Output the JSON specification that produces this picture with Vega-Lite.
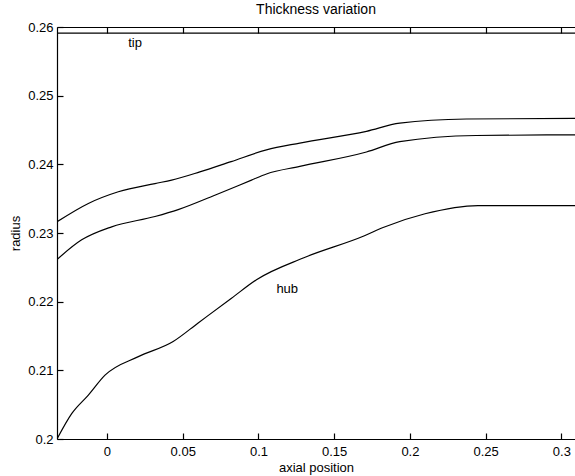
{
  "$schema": "https://vega.github.io/schema/vega-lite/v6.json",
  "width": 518,
  "height": 412,
  "autosize": {"type": "none"},
  "padding": {"left": 57, "top": 27, "right": 0, "bottom": 37},
  "background": "white",
  "config": {
    "view": {"stroke": null},
    "font": "Liberation Sans",
    "axis": {
      "grid": false,
      "domainColor": "black",
      "domainWidth": 1.2,
      "tickColor": "black",
      "tickWidth": 1.2,
      "tickSize": -6,
      "labelColor": "black",
      "labelFont": "Liberation Sans",
      "labelFontSize": 13,
      "titleFont": "Liberation Sans",
      "titleFontSize": 13,
      "titleFontWeight": "normal",
      "titleColor": "black"
    },
    "title": {"font": "Liberation Sans", "fontSize": 14, "fontWeight": "normal", "color": "black"}
  },
  "title": {"text": "Thickness variation", "anchor": "middle", "offset": 4},
  "datasets": {
    "curves": [
      {"x": -0.033, "y": 0.2591, "series": "tip"},
      {"x": 0.309, "y": 0.2591, "series": "tip"},

      {"x": -0.0332, "y": 0.2316, "series": "upper"},
      {"x": -0.0123, "y": 0.2343, "series": "upper"},
      {"x": 0.0075, "y": 0.2360, "series": "upper"},
      {"x": 0.0317, "y": 0.2372, "series": "upper"},
      {"x": 0.0427, "y": 0.2377, "series": "upper"},
      {"x": 0.0613, "y": 0.2389, "series": "upper"},
      {"x": 0.0820, "y": 0.2404, "series": "upper"},
      {"x": 0.1053, "y": 0.2421, "series": "upper"},
      {"x": 0.1273, "y": 0.2431, "series": "upper"},
      {"x": 0.1713, "y": 0.2448, "series": "upper"},
      {"x": 0.1933, "y": 0.2460, "series": "upper"},
      {"x": 0.2373, "y": 0.2466, "series": "upper"},
      {"x": 0.309, "y": 0.2467, "series": "upper"},

      {"x": -0.0332, "y": 0.2261, "series": "middle"},
      {"x": -0.0167, "y": 0.2290, "series": "middle"},
      {"x": 0.0031, "y": 0.2309, "series": "middle"},
      {"x": 0.0317, "y": 0.2324, "series": "middle"},
      {"x": 0.0470, "y": 0.2334, "series": "middle"},
      {"x": 0.0712, "y": 0.2355, "series": "middle"},
      {"x": 0.0954, "y": 0.2377, "series": "middle"},
      {"x": 0.1053, "y": 0.2386, "series": "middle"},
      {"x": 0.1273, "y": 0.2397, "series": "middle"},
      {"x": 0.1713, "y": 0.2418, "series": "middle"},
      {"x": 0.1933, "y": 0.2433, "series": "middle"},
      {"x": 0.2438, "y": 0.2442, "series": "middle"},
      {"x": 0.309, "y": 0.2443, "series": "middle"},

      {"x": -0.033, "y": 0.2000, "series": "hub"},
      {"x": -0.0233, "y": 0.2037, "series": "hub"},
      {"x": -0.0123, "y": 0.2064, "series": "hub"},
      {"x": -0.0013, "y": 0.2093, "series": "hub"},
      {"x": 0.0207, "y": 0.2120, "series": "hub"},
      {"x": 0.0437, "y": 0.2142, "series": "hub"},
      {"x": 0.0602, "y": 0.2169, "series": "hub"},
      {"x": 0.0822, "y": 0.2205, "series": "hub"},
      {"x": 0.0987, "y": 0.2232, "series": "hub"},
      {"x": 0.1300, "y": 0.2264, "series": "hub"},
      {"x": 0.1700, "y": 0.2296, "series": "hub"},
      {"x": 0.1823, "y": 0.2308, "series": "hub"},
      {"x": 0.2100, "y": 0.2328, "series": "hub"},
      {"x": 0.2449, "y": 0.2340, "series": "hub"},
      {"x": 0.309, "y": 0.2340, "series": "hub"}
    ],
    "labels": [
      {"x": 0.0185, "y": 0.2577, "label": "tip"},
      {"x": 0.119, "y": 0.2218, "label": "hub"}
    ]
  },
  "layer": [
    {
      "data": {"name": "curves"},
      "mark": {"type": "line", "color": "black", "strokeWidth": 1.2, "clip": true, "interpolate": "monotone"},
      "encoding": {
        "x": {
          "field": "x", "type": "quantitative",
          "scale": {"domain": [-0.033, 0.309], "nice": false, "zero": false},
          "axis": {"title": "axial position", "values": [0, 0.05, 0.1, 0.15, 0.2, 0.25, 0.3], "format": ".2~f", "labelPadding": 12, "titlePadding": 3}
        },
        "y": {
          "field": "y", "type": "quantitative",
          "scale": {"domain": [0.2, 0.26], "nice": false, "zero": false},
          "axis": {"title": "radius", "values": [0.2, 0.21, 0.22, 0.23, 0.24, 0.25, 0.26], "format": ".2~f", "labelPadding": 10, "titlePadding": 5}
        },
        "detail": {"field": "series"}
      }
    },
    {
      "data": {"name": "curves"},
      "mark": {"type": "rule", "opacity": 0},
      "encoding": {
        "x": {"field": "x", "type": "quantitative", "axis": {"orient": "top", "labels": false, "title": null, "values": [0, 0.05, 0.1, 0.15, 0.2, 0.25, 0.3]}}
      }
    },
    {
      "data": {"name": "labels"},
      "mark": {"type": "text", "color": "black", "fontSize": 13, "font": "Liberation Sans", "align": "center", "baseline": "middle"},
      "encoding": {
        "x": {"field": "x", "type": "quantitative", "axis": null},
        "y": {"field": "y", "type": "quantitative"},
        "text": {"field": "label"}
      }
    }
  ],
  "resolve": {"axis": {"x": "independent"}}
}
